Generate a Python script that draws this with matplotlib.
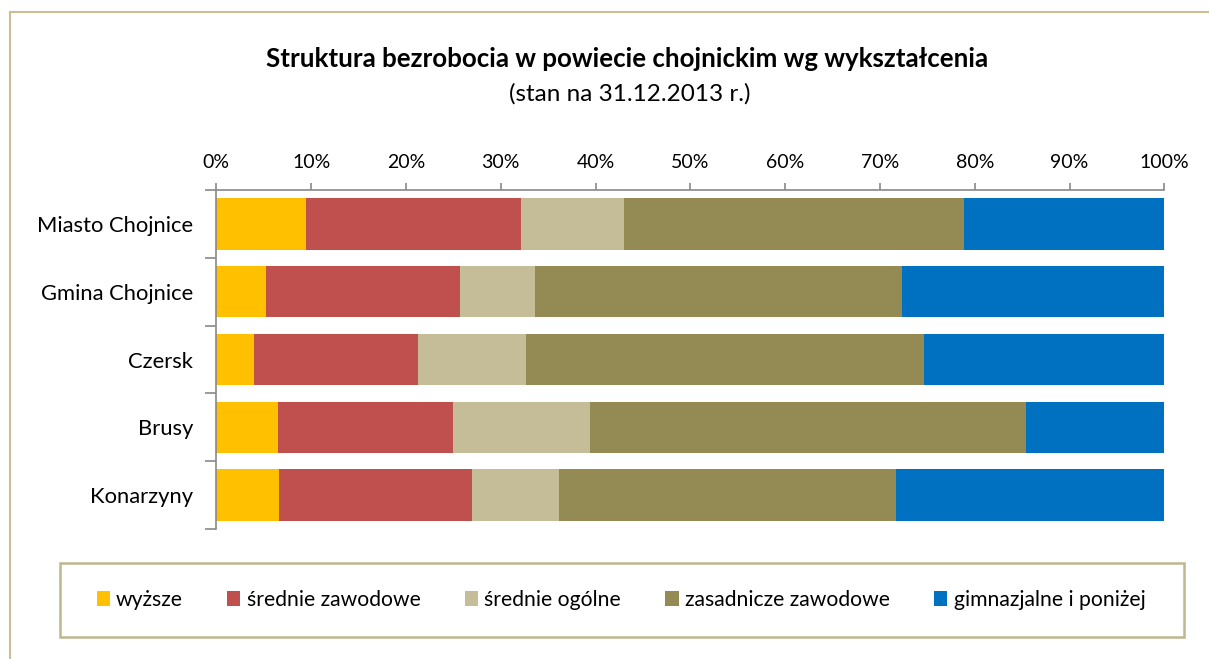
import matplotlib
matplotlib.use("Agg")
import matplotlib.pyplot as plt
from matplotlib.patches import Rectangle
import numpy as np

# data (percent shares)
regions = ["Miasto Chojnice", "Gmina Chojnice", "Czersk", "Brusy", "Konarzyny"]
series_names = ["wyższe", "średnie zawodowe", "średnie ogólne",
                "zasadnicze zawodowe", "gimnazjalne i poniżej"]
wyzsze = [9.5, 5.2, 4.0, 6.5, 6.6]
srednie_zaw = [22.6, 20.5, 17.3, 18.5, 20.4]
srednie_ogol = [10.9, 7.9, 11.4, 14.4, 9.2]
zasadnicze = [35.9, 38.7, 42.0, 46.0, 35.5]
gimnazjalne = [21.1, 27.7, 25.3, 14.6, 28.3]
colors = ["#FFC000", "#C0504D", "#C4BD97", "#948A54", "#0070C0"]
xticks = [0, 10, 20, 30, 40, 50, 60, 70, 80, 90, 100]

plt.rcParams["font.family"] = ["Lato", "DejaVu Sans"]

W, H = 1209, 659
fig = plt.figure(figsize=(W / 100, H / 100), dpi=100)

# outer frame
fig.patches.append(Rectangle((10 / W, -0.1), 1.2, (H - 12) / H + 0.1,
                             transform=fig.transFigure, fill=False,
                             edgecolor="#C9BF92", linewidth=1.5))

ax = fig.add_axes([216.3 / W, 130 / H, 948 / W, 339 / H])

data = [wyzsze, srednie_zaw, srednie_ogol, zasadnicze, gimnazjalne]
y = np.arange(len(regions))
left = np.zeros(len(regions))
handles = []
for vals, name, c in zip(data, series_names, colors):
    tot = np.array(vals)
    b = ax.barh(y, tot, left=left, height=0.76, color=c, label=name,
                edgecolor="none")
    handles.append(b)
    left += tot

ax.set_xlim(0, 100)
ax.set_ylim(4.5, -0.5)
ax.xaxis.tick_top()
ax.set_xticks(xticks)
ax.set_xticklabels([f"{t}%" for t in xticks], fontsize=14)
ax.tick_params(axis="x", direction="out", length=5, width=1.2,
               color="#898989", pad=8.5)

ax.set_yticks(np.arange(-0.5, 5, 1))
ax.set_yticklabels([])
ax.tick_params(axis="y", which="major", direction="out", length=8,
               width=1.2, color="#898989")
ax.set_yticks(y, minor=True)
ax.set_yticklabels(regions, minor=True, fontsize=15.8)
ax.tick_params(axis="y", which="minor", length=0, pad=16.6)

for s in ["right", "bottom"]:
    ax.spines[s].set_visible(False)
for s in ["left", "top"]:
    ax.spines[s].set_color("#898989")
    ax.spines[s].set_linewidth(1.2)

fig.text(627 / W, 1 - 67 / H, "Struktura bezrobocia w powiecie chojnickim wg wykształcenia",
         ha="center", va="baseline", fontsize=18.6, fontweight="bold")
fig.text(630 / W, 1 - 101 / H, "(stan na 31.12.2013 r.)",
         ha="center", va="baseline", fontsize=17.5)

# legend box
fig.patches.append(Rectangle((60 / W, 1 - 637 / H), 1124 / W, 74 / H,
                             transform=fig.transFigure, fill=False,
                             edgecolor="#BFB78F", linewidth=1.8))
fig.legend(handles=handles, loc="center", bbox_to_anchor=(621 / W, 1 - 600 / H),
           ncol=5, frameon=False, fontsize=15.2, handlelength=0.62,
           handleheight=0.66, handletextpad=0.3, columnspacing=2.1)

fig.savefig("out.png", dpi=100)
